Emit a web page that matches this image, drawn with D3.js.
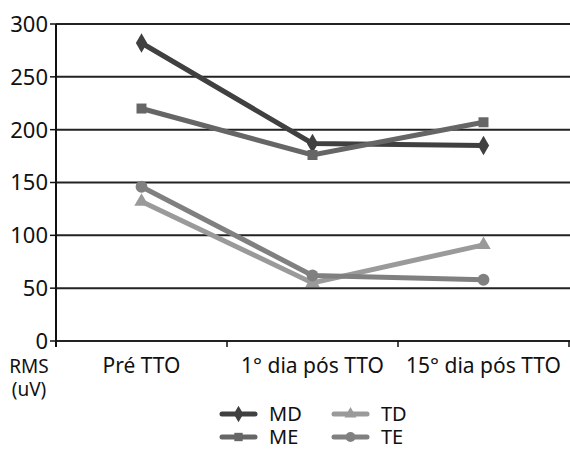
<!DOCTYPE html>
<html>
<head>
<meta charset="utf-8">
<script src="https://cdn.jsdelivr.net/npm/d3@7"></script>
<style>
  body { margin: 0; background: #fff; }
  text { font-family: "Noto Sans", "DejaVu Sans", sans-serif; fill: #111; }
</style>
</head>
<body>
<div id="chart"></div>
<script>
// chart data
var categories = ["Pré TTO", "1° dia pós TTO", "15° dia pós TTO"];
var seriesNames = ["MD", "ME", "TD", "TE"];
var md = [282, 187, 185];
var me = [220, 176, 207];
var td = [132, 55, 91];
var te = [146, 62, 58];
var yTicks = [0, 50, 100, 150, 200, 250, 300];

var width = 570, height = 451;
var plotLeft = 56, plotRight = 569, plotTop = 24, plotBottom = 341;

var series = [
  { name: "MD", values: md, color: "#404040", shape: d3.symbolDiamond, size: 110 },
  { name: "ME", values: me, color: "#666666", shape: d3.symbolSquare, size: 100 },
  { name: "TD", values: td, color: "#9a9a9a", shape: d3.symbolTriangle, size: 90 },
  { name: "TE", values: te, color: "#808080", shape: d3.symbolCircle, size: 110 }
];

var svg = d3.select("#chart")
            .append("svg")
            .attr("width", width)
            .attr("height", height);

var x = d3.scaleBand()
          .domain(categories)
          .range([plotLeft, plotRight]);

var y = d3.scaleLinear()
          .domain([0, 300])
          .range([plotBottom, plotTop]);

// horizontal grid lines
svg.selectAll(".grid")
   .data(yTicks)
   .enter()
   .append("line")
   .attr("x1", plotLeft)
   .attr("x2", width)
   .attr("y1", function(d) { return y(d); })
   .attr("y2", function(d) { return y(d); })
   .attr("stroke", "#222")
   .attr("stroke-width", 2);

// y axis line and tick labels
svg.append("line")
   .attr("x1", plotLeft).attr("x2", plotLeft)
   .attr("y1", plotTop).attr("y2", plotBottom + 6)
   .attr("stroke", "#111").attr("stroke-width", 2);

svg.selectAll(".ytick")
   .data(yTicks)
   .enter()
   .append("line")
   .attr("x1", plotLeft - 6).attr("x2", plotLeft)
   .attr("y1", function(d) { return y(d); })
   .attr("y2", function(d) { return y(d); })
   .attr("stroke", "#111").attr("stroke-width", 1.5);

svg.selectAll(".ylabel")
   .data(yTicks)
   .enter()
   .append("text")
   .attr("x", plotLeft - 8)
   .attr("y", function(d) { return y(d); })
   .attr("dy", "0.36em")
   .attr("text-anchor", "end")
   .style("font-size", "22px")
   .text(function(d) { return d; });

// x tick marks at band edges
var edges = categories.map(function(c) { return x(c); }).concat([plotRight]);
svg.selectAll(".xtick")
   .data(edges)
   .enter()
   .append("line")
   .attr("x1", function(d) { return d; })
   .attr("x2", function(d) { return d; })
   .attr("y1", plotBottom).attr("y2", plotBottom + 6)
   .attr("stroke", "#111").attr("stroke-width", 1.5);

svg.selectAll(".xlabel")
   .data(categories)
   .enter()
   .append("text")
   .attr("x", function(d) { return x(d) + x.bandwidth() / 2; })
   .attr("y", 373)
   .attr("text-anchor", "middle")
   .style("font-size", "21px")
   .text(function(d) { return d; });

svg.append("text").attr("x", 29).attr("y", 373)
   .attr("text-anchor", "middle").style("font-size", "19px").text("RMS");
svg.append("text").attr("x", 29).attr("y", 396)
   .attr("text-anchor", "middle").style("font-size", "19px").text("(uV)");

// lines and markers
var line = d3.line()
             .x(function(d, i) { return x(categories[i]) + x.bandwidth() / 2; })
             .y(function(d) { return y(d); });

series.forEach(function(s) {
  svg.append("path")
     .datum(s.values)
     .attr("d", line)
     .attr("fill", "none")
     .attr("stroke", s.color)
     .attr("stroke-width", 5);

  svg.selectAll(".pt-" + s.name)
     .data(s.values)
     .enter()
     .append("path")
     .attr("d", d3.symbol().type(s.shape).size(s.size))
     .attr("transform", function(d, i) {
       return "translate(" + (x(categories[i]) + x.bandwidth() / 2) + "," + y(d) + ")";
     })
     .attr("fill", s.color);
});

// legend
var legendPos = [[222, 414], [222, 437], [334, 414], [334, 437]];
series.forEach(function(s, i) {
  var g = svg.append("g")
             .attr("transform", "translate(" + legendPos[i][0] + "," + legendPos[i][1] + ")");
  g.append("line")
   .attr("x1", 0).attr("x2", 33)
   .attr("stroke", s.color).attr("stroke-width", 5)
   .attr("stroke-linecap", "round");
  g.append("path")
   .attr("d", d3.symbol().type(s.shape).size(s.size * 0.7))
   .attr("transform", "translate(16.5,0)")
   .attr("fill", s.color);
  g.append("text")
   .attr("x", 47).attr("y", 0).attr("dy", "0.36em")
   .style("font-size", "20px")
   .text(s.name);
});
</script>
</body>
</html>
